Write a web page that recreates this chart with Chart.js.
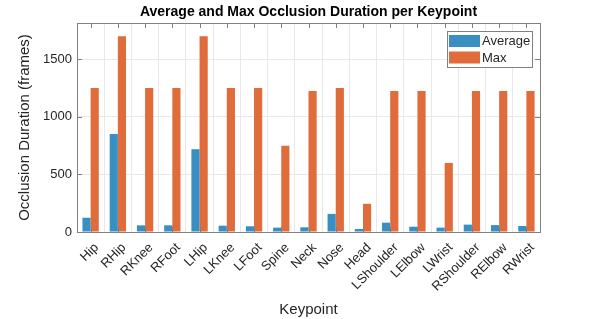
<!DOCTYPE html>
<html>
<head>
<meta charset="utf-8">
<script src="https://cdn.jsdelivr.net/npm/chart.js@4"></script>
<style>
  html, body { margin: 0; padding: 0; background: #fff; }
  #wrap { width: 598px; height: 319px; }
</style>
</head>
<body>
<div id="wrap"><canvas id="barras" width="598" height="319"></canvas></div>
<script>
const keypoints = ["Hip", "RHip", "RKnee", "RFoot", "LHip", "LKnee", "LFoot", "Spine", "Neck",
    "Nose", "Head", "LShoulder", "LElbow", "LWrist", "RShoulder", "RElbow", "RWrist"];
const avgFrames = [124, 852, 58, 58, 719, 55, 50, 38, 41, 157, 26, 81, 46, 38, 64, 60, 52];
const maxFrames = [1250, 1700, 1250, 1250, 1700, 1250, 1250, 750, 1225, 1250, 245, 1225, 1225, 600, 1225, 1225, 1225];
const yTicks = [0, 500, 1000, 1500];

const fonte = "'Liberation Sans', Arial, Helvetica, sans-serif";
const corAzul = "#3a8fc2";
const corLaranja = "#e06b3b";
const corBorda = "#808080";

// titulo, caixa do eixo, ticks internos e legenda estilo MATLAB
const estiloMatlab = {
    id: 'estiloMatlab',
    afterDraw(chart) {
        const ctx = chart.ctx;
        const a = chart.chartArea;
        const x = chart.scales.x, y = chart.scales.y;
        ctx.save();

        // caixa
        ctx.strokeStyle = corBorda;
        ctx.lineWidth = 1;
        ctx.strokeRect(Math.round(a.left) + 0.5, Math.round(a.top) + 0.5,
            Math.round(a.right - a.left), Math.round(a.bottom - a.top));

        // ticks para dentro
        ctx.beginPath();
        keypoints.forEach((k, i) => {
            const px = Math.round(x.getPixelForValue(i)) + 0.5;
            ctx.moveTo(px, a.bottom); ctx.lineTo(px, a.bottom - 5);
            ctx.moveTo(px, a.top); ctx.lineTo(px, a.top + 5);
        });
        yTicks.forEach(v => {
            const py = Math.round(y.getPixelForValue(v)) + 0.5;
            ctx.moveTo(a.left, py); ctx.lineTo(a.left + 5, py);
            ctx.moveTo(a.right, py); ctx.lineTo(a.right - 5, py);
        });
        ctx.stroke();

        // titulo
        ctx.fillStyle = "#000";
        ctx.font = "bold 14px " + fonte;
        ctx.textAlign = "center";
        ctx.textBaseline = "middle";
        ctx.fillText("Average and Max Occlusion Duration per Keypoint", (a.left + a.right) / 2, 12);

        // legenda
        const lx = 447, ly = 31, lw = 85, lh = 36;
        ctx.fillStyle = "#fff";
        ctx.fillRect(lx, ly, lw, lh);
        ctx.strokeStyle = corBorda;
        ctx.strokeRect(lx + 0.5, ly + 0.5, lw, lh);
        const itens = [["Average", corAzul], ["Max", corLaranja]];
        ctx.font = "13px " + fonte;
        ctx.textAlign = "left";
        itens.forEach((it, i) => {
            const top = ly + 4 + i * 16.5;
            ctx.fillStyle = it[1];
            ctx.fillRect(lx + 2, top, 31, 12);
            ctx.fillStyle = "#262626";
            ctx.fillText(it[0], lx + 35, top + 6.5);
        });
        ctx.restore();
    }
};

let bar = new Chart(document.getElementById("barras"), {
    type: 'bar',
    data: {
        labels: keypoints,
        datasets: [
            {
                label: "Average",
                data: avgFrames,
                backgroundColor: corAzul,
                categoryPercentage: 0.6,
                barPercentage: 1.0
            },
            {
                label: "Max",
                data: maxFrames,
                backgroundColor: corLaranja,
                categoryPercentage: 0.6,
                barPercentage: 1.0
            }
        ]
    },
    options: {
        responsive: false,
        animation: false,
        layout: {
            padding: { left: 0, right: 58, top: 23, bottom: 0 }
        },
        plugins: {
            legend: { display: false },
            title: { display: false },
            tooltip: { enabled: false }
        },
        scales: {
            x: {
                grid: { color: "#e8e8e8", drawTicks: false },
                border: { display: false },
                ticks: {
                    color: "#262626",
                    font: { family: fonte, size: 13 },
                    minRotation: 45,
                    maxRotation: 45,
                    autoSkip: false,
                    padding: 8,
                    labelOffset: 6
                },
                title: {
                    display: true,
                    text: "Keypoint",
                    color: "#262626",
                    font: { family: fonte, size: 15 },
                    padding: { top: 0, bottom: 0 }
                },
                afterFit(scale) { scale.height = 87; }
            },
            y: {
                min: 0,
                max: 1815,
                grid: { color: "#e8e8e8", drawTicks: false },
                border: { display: false },
                ticks: {
                    color: "#262626",
                    font: { family: fonte, size: 13 },
                    padding: 5,
                    callback: v => String(v)
                },
                afterBuildTicks(scale) {
                    scale.ticks = yTicks.map(v => ({ value: v }));
                },
                title: {
                    display: true,
                    text: "Occlusion Duration (frames)",
                    color: "#262626",
                    font: { family: fonte, size: 15 },
                    padding: { top: 16, bottom: 0 }
                },
                afterFit(scale) { scale.width = 77; }
            }
        }
    },
    plugins: [estiloMatlab]
});
</script>
</body>
</html>
